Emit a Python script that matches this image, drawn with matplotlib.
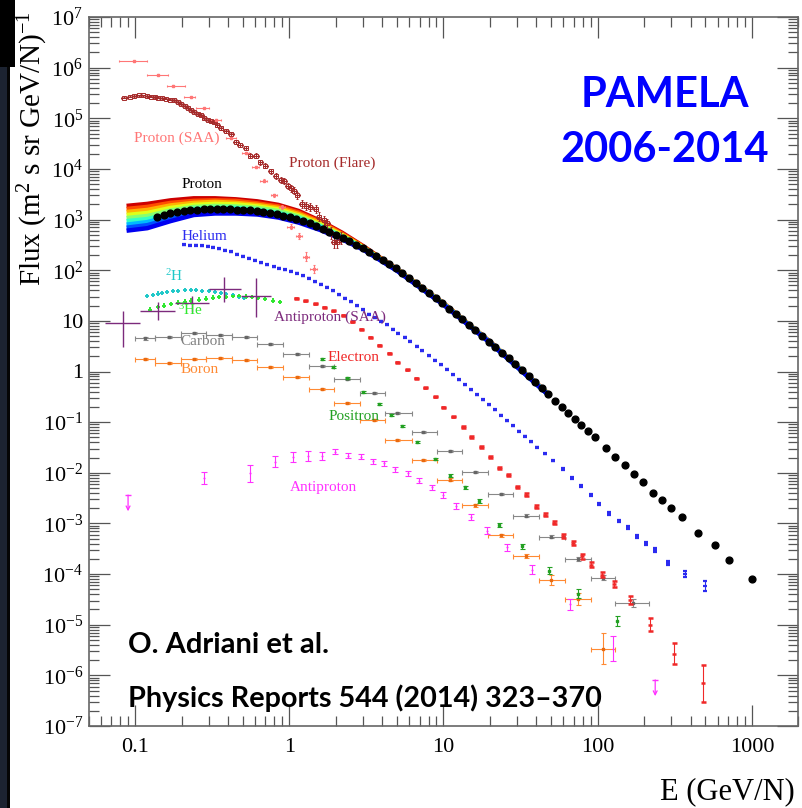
import numpy as np
import matplotlib
matplotlib.use("Agg")
import matplotlib.pyplot as plt
from matplotlib.ticker import LogLocator, NullFormatter, FixedLocator, FixedFormatter
from matplotlib.patches import Rectangle

plt.rcParams['font.family'] = ['Liberation Serif', 'DejaVu Serif']
plt.rcParams['mathtext.fontset'] = 'custom'
plt.rcParams['mathtext.rm'] = 'Liberation Serif'
plt.rcParams['mathtext.it'] = 'Liberation Serif:italic'
plt.rcParams['mathtext.bf'] = 'Liberation Serif:bold'

# ---------------- data (E in GeV/N, flux as log10) ----------------
proton_E = [0.139,0.153,0.169,0.187,0.207,0.228,0.252,0.278,0.307,0.339,
            0.374,0.413,0.456,0.504,0.556,0.614,0.678,0.748,0.826,0.912,
            1.01,1.11,1.23,1.36,1.50,1.65,1.82,2.01,2.22,2.45,
            2.71,2.99,3.30,3.65,4.03,4.45,4.91,5.42,5.98,6.61,
            7.29,8.05,8.89,9.82,10.8,12.0,13.2,14.6,16.1,17.8,
            19.6,21.7,23.9,26.4,29.2,32.2,35.6,39.3,43.4,47.9,
            52.8,58.3,64.4,71.1,78.5,86.7,95.7,114,130,150,
            172,197,228,262,300,354,448,574,715,1000]
proton_logF = [3.06,3.09,3.12,3.14,3.16,3.18,3.19,3.20,3.20,3.20,
               3.20,3.20,3.19,3.19,3.18,3.17,3.15,3.13,3.11,3.08,
               3.05,3.01,2.97,2.93,2.88,2.82,2.76,2.70,2.64,2.57,
               2.50,2.43,2.36,2.28,2.21,2.13,2.04,1.95,1.85,1.75,
               1.65,1.55,1.45,1.35,1.24,1.14,1.03,0.92,0.81,0.70,
               0.59,0.48,0.37,0.26,0.145,0.03,-0.09,-0.21,-0.33,-0.45,
               -0.58,-0.70,-0.82,-0.94,-1.06,-1.18,-1.30,-1.51,-1.68,-1.85,
               -2.02,-2.19,-2.39,-2.54,-2.70,-2.88,-3.18,-3.42,-3.72,-4.09]

# time-dependent proton spectra (band, top = 2006 ... bottom = solar minimum)
band_E = [0.088,0.12,0.17,0.24,0.33,0.45,0.62,0.85,1.15,1.6,2.2,3.0,5.0,10,20,47]
band_logF = [
    [3.27,3.31,3.38,3.42,3.42,3.40,3.36,3.29,3.17,2.97,2.74,2.48,2.02,1.35,0.59,-0.42],
    [3.21,3.25,3.33,3.37,3.38,3.37,3.32,3.26,3.14,2.95,2.72,2.47,2.02,1.34,0.59,-0.42],
    [3.15,3.19,3.28,3.33,3.35,3.33,3.29,3.23,3.11,2.93,2.70,2.46,2.01,1.34,0.58,-0.43],
    [3.09,3.13,3.23,3.29,3.31,3.30,3.26,3.20,3.08,2.90,2.69,2.45,2.01,1.34,0.58,-0.43],
    [3.03,3.07,3.18,3.25,3.27,3.26,3.23,3.17,3.06,2.88,2.67,2.44,2.00,1.33,0.58,-0.43],
    [2.97,3.01,3.12,3.21,3.23,3.23,3.19,3.13,3.03,2.86,2.66,2.44,2.00,1.33,0.58,-0.43],
    [2.90,2.95,3.07,3.17,3.20,3.19,3.16,3.10,3.00,2.84,2.64,2.43,2.00,1.33,0.57,-0.44],
    [2.84,2.89,3.02,3.13,3.16,3.16,3.13,3.07,2.97,2.81,2.62,2.42,1.99,1.32,0.57,-0.44],
    [2.78,2.83,2.97,3.09,3.12,3.12,3.10,3.04,2.94,2.79,2.61,2.41,1.99,1.32,0.57,-0.44],
]

flare_E = [0.085,0.092,0.099,0.106,0.112,0.120,0.127,0.134,0.140,0.150,
           0.159,0.169,0.179,0.190,0.198,0.210,0.219,0.230,0.241,0.254,
           0.267,0.281,0.295,0.310,0.325,0.342,0.359,0.387,0.417,0.45,
           0.48,0.52,0.56,0.606,0.65,0.70,0.757,0.815,0.88,0.92,
           0.98,1.02,1.07,1.13,1.21,1.29,1.37,1.48,1.55,1.67,
           1.76,1.85,1.94,2.04,2.15]
flare_logF = [5.41,5.43,5.44,5.45,5.45,5.44,5.43,5.42,5.41,5.40,
              5.39,5.37,5.36,5.32,5.28,5.24,5.20,5.16,5.13,5.09,
              5.06,5.01,4.97,4.95,4.93,4.86,4.80,4.74,4.68,4.53,
              4.47,4.42,4.26,4.26,4.13,4.06,3.95,3.86,3.78,3.76,
              3.66,3.62,3.57,3.48,3.30,3.27,3.25,3.21,3.06,2.99,
              2.93,2.73,2.56,2.56,2.63]
flare_yerr = [0.015,0.015,0.015,0.015,0.015,0.015,0.015,0.015,0.015,0.015,
              0.015,0.015,0.015,0.02,0.02,0.02,0.02,0.02,0.02,0.02,
              0.02,0.025,0.025,0.025,0.025,0.03,0.03,0.03,0.03,0.04,
              0.04,0.04,0.045,0.045,0.05,0.05,0.05,0.05,0.06,0.06,
              0.06,0.07,0.07,0.07,0.08,0.08,0.08,0.08,0.09,0.09,
              0.09,0.12,0.12,0.12,0.12]

saa_E = [0.099,0.14,0.175,0.23,0.28,0.334,0.42,0.52,0.606,0.685,0.795,0.90,1.02,1.15,1.29,1.44]
saa_logF = [6.13,5.855,5.64,5.415,5.20,4.97,4.62,4.31,4.03,3.77,3.48,3.24,2.86,2.68,2.27,2.02]
saa_Elo = [0.079,0.12,0.16,0.207,0.25,0.30,0.39,0.49,0.57,0.65,0.76,0.86,0.97,1.10,1.23,1.37]
saa_Ehi = [0.12,0.163,0.21,0.245,0.30,0.36,0.45,0.55,0.64,0.72,0.83,0.94,1.07,1.20,1.35,1.51]
saa_yerr = [0.01,0.01,0.01,0.01,0.01,0.01,0.02,0.02,0.02,0.03,0.03,0.04,0.05,0.06,0.08,0.08]

he_E = [0.207,0.226,0.247,0.27,0.295,0.322,0.352,0.385,0.42,0.46,
        0.50,0.55,0.60,0.66,0.72,0.79,0.86,0.94,1.03,1.12,
        1.23,1.34,1.47,1.60,1.75,1.92,2.1,2.3,2.5,2.75,
        3.0,3.3,3.6,3.95,4.3,4.7,5.1,5.6,6.1,6.7,
        7.3,8.0,8.8,9.6,10.5,11.5,12.6,13.8,15.1,16.5,
        18.0,19.7,21.6,23.6,25.8,28.2,30.9,33.8,37.0,40.5,
        45.7,51.5,59.2,68.5,78.4,90,102,118,137,157,
        180,207,236,286,370,498]
he_logF = [2.50,2.49,2.49,2.48,2.47,2.45,2.42,2.39,2.36,2.32,
           2.28,2.24,2.20,2.15,2.11,2.07,2.04,2.01,1.98,1.94,
           1.89,1.84,1.77,1.72,1.66,1.59,1.52,1.45,1.38,1.30,
           1.22,1.13,1.06,0.99,0.92,0.83,0.76,0.68,0.60,0.50,
           0.41,0.31,0.22,0.13,0.04,-0.06,-0.16,-0.26,-0.36,-0.46,
           -0.56,-0.66,-0.76,-0.86,-0.97,-1.07,-1.18,-1.28,-1.39,-1.50,
           -1.62,-1.76,-1.93,-2.10,-2.26,-2.43,-2.62,-2.80,-2.95,-3.08,
           -3.25,-3.40,-3.53,-3.78,-3.99,-4.23]
he_yerr = [0.01] * 60 + [0.015,0.015,0.015,0.015,0.02,0.02,0.02,0.025,
                         0.025,0.03,0.03,0.035,0.04,0.045,0.06,0.1]

el_E = [1.11,1.27,1.46,1.68,1.93,2.22,2.56,2.93,3.36,3.83,
        4.41,5.03,5.80,6.65,7.62,8.77,10.0,11.5,13.3,15.1,
        17.5,19.9,23.0,26.3,30.1,34.5,39.6,45.4,52.0,59.8,
        68.9,79.0,90.7,106,128,161,217,312,480]
el_logF = [1.45,1.40,1.34,1.27,1.20,1.11,0.98,0.83,0.675,0.52,
           0.36,0.18,0.03,-0.135,-0.32,-0.50,-0.71,-0.89,-1.10,-1.29,
           -1.49,-1.68,-1.91,-2.05,-2.28,-2.43,-2.67,-2.83,-2.99,-3.25,
           -3.38,-3.65,-3.82,-4.01,-4.20,-4.51,-5.00,-5.57,-6.16]
el_yerr = [0.01,0.01,0.01,0.01,0.01,0.01,0.01,0.01,0.01,0.01,
           0.01,0.01,0.01,0.01,0.01,0.01,0.015,0.015,0.015,0.015,
           0.02,0.02,0.02,0.02,0.02,0.025,0.025,0.03,0.03,0.04,
           0.04,0.045,0.05,0.055,0.065,0.085,0.13,0.2,0.37]

pos_E = [1.63,1.91,2.37,3.0,3.82,4.59,5.4,6.75,8.85,11.0,13.8,17.0,22.8,32.5,48,75,133]
pos_logF = [0.24,0.08,-0.12,-0.41,-0.65,-0.86,-1.08,-1.39,-1.73,-2.06,
            -2.29,-2.56,-3.03,-3.45,-3.93,-4.39,-4.92]
pos_yerr = [0.02,0.02,0.02,0.02,0.02,0.02,0.02,0.02,0.025,0.03,
            0.03,0.035,0.04,0.05,0.07,0.09,0.1]

ap_E = [0.28,0.556,0.807,1.06,1.32,1.62,1.99,2.39,2.9,3.47,
        4.14,4.87,5.88,6.97,8.37,9.95,12.1,15.1,19.2,25.9,
        37.5,66.3,125]
ap_logF = [-2.11,-2.01,-1.78,-1.69,-1.67,-1.66,-1.58,-1.66,-1.68,-1.77,
           -1.81,-1.93,-2.01,-2.16,-2.29,-2.43,-2.65,-2.87,-3.14,-3.47,
           -3.91,-4.60,-5.47]
ap_yerr = [0.12,0.165,0.105,0.10,0.10,0.08,0.05,0.05,0.05,0.05,
           0.05,0.05,0.05,0.05,0.05,0.06,0.06,0.06,0.07,0.07,
           0.08,0.1,0.24]
ap_ul_E = [0.09, 236]
ap_ul_logF = [-2.44, -6.09]

apsaa_E = [0.083, 0.14, 0.233, 0.378, 0.605]
apsaa_F = [8.9, 15.5, 22.9, 41.7, 30.9]
apsaa_Flo = [3.1, 10.5, 15.1, 24.0, 12.0]
apsaa_Fhi = [15.7, 24.0, 31.4, 72.4, 69.0]
apsaa_Elo = [0.064, 0.108, 0.181, 0.30, 0.484]
apsaa_Ehi = [0.108, 0.181, 0.30, 0.484, 0.757]

cb_edges = [0.100,0.134,0.198,0.288,0.428,0.621,0.915,1.34,1.94,2.86,4.19,
            6.23,9.06,13.2,19.4,28.1,41.4,61.0,90.3,130,214]
c_E = [0.116,0.165,0.24,0.356,0.52,0.75,1.115,1.63,2.37,3.53,
       5.0,7.4,11,16.1,23.5,34.5,50.1,74,108,170]
c_logF = [0.655,0.675,0.755,0.73,0.675,0.54,0.34,0.11,-0.155,-0.43,
          -0.81,-1.19,-1.57,-1.98,-2.42,-2.85,-3.26,-3.70,-4.07,-4.57]
c_yerr = [0.03,0.02,0.02,0.02,0.02,0.02,0.02,0.02,0.02,0.02,
          0.02,0.02,0.02,0.02,0.025,0.03,0.03,0.04,0.05,0.08]
b_E = c_E[:19]
b_logF = [0.24,0.175,0.25,0.26,0.23,0.08,-0.115,-0.35,-0.63,-0.95,
          -1.35,-1.74,-2.14,-2.64,-3.23,-3.64,-4.12,-4.49,-5.47]
b_yerr = [0.02,0.02,0.02,0.02,0.02,0.02,0.02,0.02,0.02,0.02,
          0.02,0.02,0.03,0.03,0.03,0.04,0.1,0.115,0.31]

h2_E = [0.12,0.13,0.14,0.15,0.16,0.175,0.19,0.21,0.23,0.25,
        0.27,0.30,0.33,0.36,0.39,0.43,0.47,0.51]
h2_logF = [1.50,1.52,1.54,1.55,1.57,1.58,1.59,1.60,1.60,1.60,
           1.59,1.58,1.57,1.55,1.53,1.51,1.48,1.46]
he3_E = [0.125,0.14,0.155,0.17,0.19,0.21,0.23,0.26,0.29,0.32,
         0.35,0.39,0.43,0.47,0.52,0.57,0.63,0.70,0.78,0.87]
he3_logF = [1.22,1.27,1.30,1.33,1.36,1.38,1.40,1.42,1.44,1.46,
            1.47,1.48,1.49,1.49,1.48,1.47,1.45,1.43,1.40,1.37]

x_ticks = [0.1, 1, 10, 100, 1000]
x_ticklabels = ['0.1', '1', '10', '100', '1000']
y_exponents = list(range(-7, 8))

# ---------------- helpers ----------------
def lin(v):
    return 10.0 ** np.asarray(v, dtype=float)

def dec_err(v, d):
    v = np.asarray(v, dtype=float)
    d = np.asarray(d, dtype=float)
    return np.vstack([v - v * 10 ** (-d), v * 10 ** d - v])

def edge_err(v, lo, hi):
    v = np.asarray(v, dtype=float)
    return np.vstack([v - np.asarray(lo), np.asarray(hi) - v])

W, H = 802, 808
fig = plt.figure(figsize=(W / 100, H / 100), dpi=100)
fig.patch.set_facecolor('white')

# dark slide border on the left
fig.add_artist(Rectangle((0, 0), 7 / W, 1, transform=fig.transFigure,
                         facecolor='#1c2331', edgecolor='none', zorder=-5))
fig.add_artist(Rectangle((7 / W, 0), 3 / W, 1, transform=fig.transFigure,
                         facecolor='#050505', edgecolor='none', zorder=-5))
fig.add_artist(Rectangle((0, 1 - 67 / H), 15 / W, 67 / H, transform=fig.transFigure,
                         facecolor='#000000', edgecolor='none', zorder=-4))

ax = fig.add_axes([88.7 / W, 82 / H, 709.6 / W, 709 / H])
ax.set_xscale('log')
ax.set_yscale('log')
ax.set_xlim(0.05, 2000)
ax.set_ylim(1e-7, 1e7)

# proton band
for i, row in enumerate(band_logF):
    ax.plot(band_E, lin(row), color=plt.cm.jet(0.93 - 0.83 * i / (len(band_logF) - 1)),
            lw=3.2, solid_capstyle='butt', zorder=2)

ekw = dict(elinewidth=0.8, capthick=0.8, linestyle='none')

# Proton flare
cf = '#a52a2a'
F = lin(flare_logF)
ax.errorbar(flare_E, F, xerr=dec_err(flare_E, 0.018), yerr=dec_err(F, flare_yerr),
            fmt='s', ms=2.2, mfc='none', mec=cf, mew=0.7, ecolor=cf, capsize=1.0,
            zorder=3, **ekw)

# Proton SAA
cs = '#ff7676'
F = lin(saa_logF)
ax.errorbar(saa_E, F, xerr=edge_err(saa_E, saa_Elo, saa_Ehi), yerr=dec_err(F, saa_yerr),
            fmt='s', ms=1.5, color=cs, ecolor=cs, capsize=1.0, zorder=3, **ekw)

# Proton (black dots)
ax.plot(proton_E, lin(proton_logF), 'o', color='black', ms=4.9, zorder=6)

# Helium
ch = '#2b2bf0'
F = lin(he_logF)
ax.errorbar(he_E, F, yerr=dec_err(F, he_yerr), fmt='_', ms=3.4, mew=1.6, color=ch,
            ecolor=ch, capsize=1.4, zorder=4, **ekw)

# Electron
ce = '#f02828'
F = lin(el_logF)
ax.errorbar(el_E, F, yerr=dec_err(F, el_yerr), fmt='_', ms=3.4, mew=1.8, color=ce,
            ecolor=ce, capsize=1.8, zorder=4, **ekw)

# Positron
cp = '#22a022'
F = lin(pos_logF)
ax.errorbar(pos_E, F, yerr=dec_err(F, pos_yerr), fmt='s', ms=2.0, color=cp,
            ecolor=cp, capsize=1.8, zorder=4, **ekw)

# Antiproton
cm_ = '#ff30ff'
F = lin(ap_logF)
ax.errorbar(ap_E, F, yerr=dec_err(F, ap_yerr), fmt='_', ms=2, color=cm_,
            ecolor=cm_, capsize=2, zorder=4, **ekw)
for e, lf in zip(ap_ul_E, ap_ul_logF):
    f = 10 ** lf
    ax.plot([e], [f], marker='_', ms=5, mew=1, color=cm_, zorder=4)
    ax.annotate('', xy=(e, f * 10 ** -0.32), xytext=(e, f),
                arrowprops=dict(arrowstyle='->', color=cm_, lw=0.9,
                                shrinkA=0, shrinkB=0, mutation_scale=7), zorder=4)

# Antiproton SAA
cps = '#7c2a7c'
ax.errorbar(apsaa_E, apsaa_F, xerr=edge_err(apsaa_E, apsaa_Elo, apsaa_Ehi),
            yerr=edge_err(apsaa_F, apsaa_Flo, apsaa_Fhi), fmt='none', ecolor=cps,
            elinewidth=1.0, capsize=0, zorder=4)

# Carbon and Boron
cc = '#888888'
F = lin(c_logF)
ax.errorbar(c_E, F, xerr=edge_err(c_E, cb_edges[:-1], cb_edges[1:]), yerr=dec_err(F, c_yerr),
            fmt='s', ms=1.8, color='#666666', ecolor=cc, capsize=1.8, zorder=3, **ekw)
cb = '#ff8a33'
F = lin(b_logF)
ax.errorbar(b_E, F, xerr=edge_err(b_E, cb_edges[:19], cb_edges[1:20]), yerr=dec_err(F, b_yerr),
            fmt='s', ms=1.8, color='#e86a10', ecolor=cb, capsize=1.8, zorder=3, **ekw)

# 2H and 3He
c2 = '#1fc8c8'
ax.errorbar(h2_E, lin(h2_logF), yerr=dec_err(lin(h2_logF), 0.02), fmt='_', ms=3, mew=1.4,
            color=c2, ecolor=c2, capsize=1, zorder=3, **ekw)
c3 = '#2ee82e'
ax.errorbar(he3_E, lin(he3_logF), yerr=dec_err(lin(he3_logF), 0.025), fmt='_', ms=3, mew=1.4,
            color=c3, ecolor=c3, capsize=1, zorder=3, **ekw)

# ---------------- axes styling ----------------
ax.xaxis.set_major_locator(FixedLocator(x_ticks))
ax.xaxis.set_major_formatter(FixedFormatter(x_ticklabels))
ax.xaxis.set_minor_locator(LogLocator(base=10, subs=np.arange(2, 10), numticks=50))
ax.xaxis.set_minor_formatter(NullFormatter())
ylabels = []
for k in y_exponents:
    if k == 0:
        ylabels.append('1')
    elif k == 1:
        ylabels.append('10')
    else:
        ylabels.append(r'$\mathregular{10^{%d}}$' % k)
ax.yaxis.set_major_locator(FixedLocator([10.0 ** k for k in y_exponents]))
ax.yaxis.set_major_formatter(FixedFormatter(ylabels))
ax.yaxis.set_minor_locator(LogLocator(base=10, subs=np.arange(2, 10), numticks=50))
ax.yaxis.set_minor_formatter(NullFormatter())

ax.tick_params(which='both', direction='in', top=True, right=True, color='#555555',
               width=0.9, labelsize=16, labelcolor='black')
ax.tick_params(which='major', length=15)
ax.tick_params(which='minor', length=7.5)
ax.tick_params(axis='x', which='major', pad=9)
ax.tick_params(axis='y', which='major', pad=4)
for s in ax.spines.values():
    s.set_color('#666666')
    s.set_linewidth(1.2)

def P(x, y):
    return x / W, 1 - y / H

fig.text(*P(33, 149), r'Flux (m$^{2}$ s sr GeV/N)$^{-1}$', rotation=90,
         fontsize=21, ha='center', va='center')
fig.text(*P(795, 792), 'E (GeV/N)', fontsize=22, ha='right', va='center')

# series labels
labels = [
    ('Proton (SAA)', 177, 138, cs),
    ('Proton (Flare)', 332, 163, cf),
    ('Proton', 202, 184, 'black'),
    ('Helium', 204, 237, ch),
    (r'$^{2}$H', 174, 276, c2),
    (r'$^{3}$He', 191, 310, c3),
    ('Antiproton (SAA)', 330, 317, cps),
    ('Carbon', 203, 342, '#808080'),
    ('Electron', 354, 357, ce),
    ('Boron', 200, 370, cb),
    ('Positron', 354, 416, cp),
    ('Antiproton', 323, 487, cm_),
]
for t, x, y, c in labels:
    fig.text(*P(x, y), t, color=c, fontsize=11, ha='center', va='center', zorder=10)

fig.text(*P(665, 107), 'PAMELA', family='Lato', weight='bold', fontsize=30,
         color='#0000ff', ha='center', va='baseline', zorder=10)
fig.text(*P(665, 162), '2006-2014', family='Lato', weight='bold', fontsize=30,
         color='#0000ff', ha='center', va='baseline', zorder=10)
fig.text(*P(128, 653), 'O. Adriani et al.', family='Lato', weight='bold', fontsize=21,
         color='black', ha='left', va='baseline', zorder=10)
fig.text(*P(128, 707), 'Physics Reports 544 (2014) 323\u2013370', family='Lato',
         weight='bold', fontsize=20.7, color='black', ha='left', va='baseline', zorder=10)

fig.savefig('out.png', dpi=100)
